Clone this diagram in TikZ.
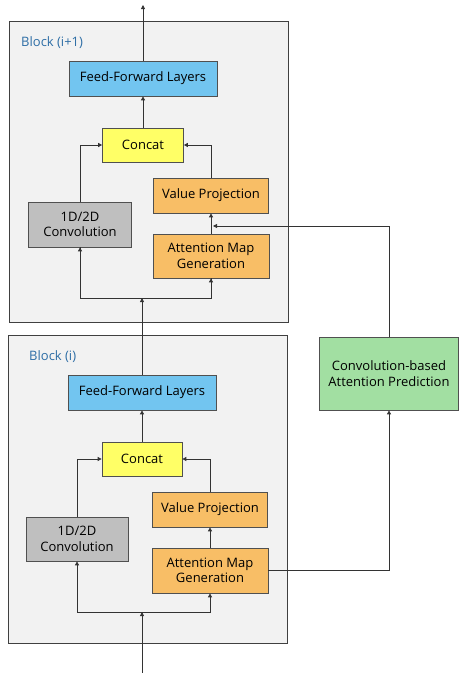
\documentclass[tikz,border=0pt]{standalone}
\usepackage{fontspec}
\setmainfont{Open Sans}
\usetikzlibrary{arrows.meta}
\definecolor{blockfill}{HTML}{F2F2F2}
\definecolor{blockline}{HTML}{404040}
\definecolor{boxline}{HTML}{505050}
\definecolor{fflc}{HTML}{72C5F0}
\definecolor{catc}{HTML}{FFFF66}
\definecolor{orc}{HTML}{F8BE66}
\definecolor{convc}{HTML}{BFBFBF}
\definecolor{grc}{HTML}{A2DFA2}
\definecolor{lblc}{HTML}{2E6EA6}
\begin{document}
\begin{tikzpicture}[x=1pt,y=-1pt,
  blockbox/.style={draw=blockline,fill=blockfill,line width=1pt,inner sep=0pt},
  unit/.style={draw=boxline,line width=0.7pt,inner sep=1pt,align=center,font=\fontsize{13}{15.5}\selectfont},
  lbl/.style={text=lblc,font=\fontsize{13}{15}\selectfont,anchor=west,inner sep=0pt},
  conn/.style={draw=black!80,line width=0.8pt,-{Triangle[length=4pt,width=4pt]}},
  plain/.style={draw=black!80,line width=0.8pt}]
\useasboundingbox (0,0) rectangle (459,673);
% blocks
\node[blockbox,minimum width=279pt,minimum height=301pt] (outer2) at (148.5,171.5) {};
\node[blockbox,minimum width=279pt,minimum height=308pt] (outer1) at (147.5,489) {};
\node[lbl] (lab2) at (21,43) {Block (i+1)};
\node[lbl] (lab1) at (29,357) {Block (i)};
% block i+1
\node[unit,fill=fflc,minimum width=148pt,minimum height=35pt] (ffl2) at (143,78.5) {Feed-Forward Layers};
\node[unit,fill=catc,minimum width=81pt,minimum height=34pt] (cat2) at (143,145) {Concat};
\node[unit,fill=orc,minimum width=115pt,minimum height=35pt] (vp2) at (211,195.5) {Value Projection};
\node[unit,fill=convc,minimum width=103pt,minimum height=45pt] (conv2) at (80,224.5) {1D/2D\\Convolution};
\node[unit,fill=orc,minimum width=116pt,minimum height=44pt] (amg2) at (211,256) {Attention Map\\Generation};
% block i
\node[unit,fill=fflc,minimum width=148pt,minimum height=35pt] (ffl1) at (142,392.5) {Feed-Forward Layers};
\node[unit,fill=catc,minimum width=80pt,minimum height=34pt] (cat1) at (142,459) {Concat};
\node[unit,fill=orc,minimum width=115pt,minimum height=35pt] (vp1) at (210,509.5) {Value Projection};
\node[unit,fill=convc,minimum width=102pt,minimum height=44pt] (conv1) at (77,539) {1D/2D\\Convolution};
\node[unit,fill=orc,minimum width=116pt,minimum height=45pt] (amg1) at (210,570.5) {Attention Map\\Generation};
% predictor
\node[unit,fill=grc,minimum width=139pt,minimum height=73pt] (cap) at (389,373.5) {Convolution-based\\Attention Prediction};
% coordinates
\coordinate (in) at (142,673);
\coordinate (j1) at (142,612);
\coordinate (j2) at (143,298);
\coordinate (out) at (143,5);
\coordinate (pin) at (211,226);
% block i connectors
\draw[conn] (in) -- (j1);
\draw[conn] (j1) -| (conv1.south);
\draw[conn] (j1) -| (amg1.south);
\draw[conn] (amg1.north) -- (vp1.south);
\draw[conn] (conv1.north) |- (cat1.west);
\draw[conn] (vp1.north) |- (cat1.east);
\draw[conn] (cat1.north) -- (ffl1.south);
\draw[conn] (ffl1.north) -- (ffl1.north |- j2);
% block i+1 connectors
\draw[plain] (j2) -| (conv2.south);
\draw[plain] (j2) -| (amg2.south);
\draw[conn] (conv2.south |- j2) -- (conv2.south);
\draw[conn] (amg2.south |- j2) -- (amg2.south);
\draw[conn] (amg2.north) -- (vp2.south);
\draw[conn] (conv2.north) |- (cat2.west);
\draw[conn] (vp2.north) |- (cat2.east);
\draw[conn] (cat2.north) -- (ffl2.south);
\draw[conn] (ffl2.north) -- (out);
% prediction path
\draw[conn] (amg1.east) -| (cap.south);
\draw[conn] (cap.north) |- ([xshift=2pt]pin);
\end{tikzpicture}
\end{document}
